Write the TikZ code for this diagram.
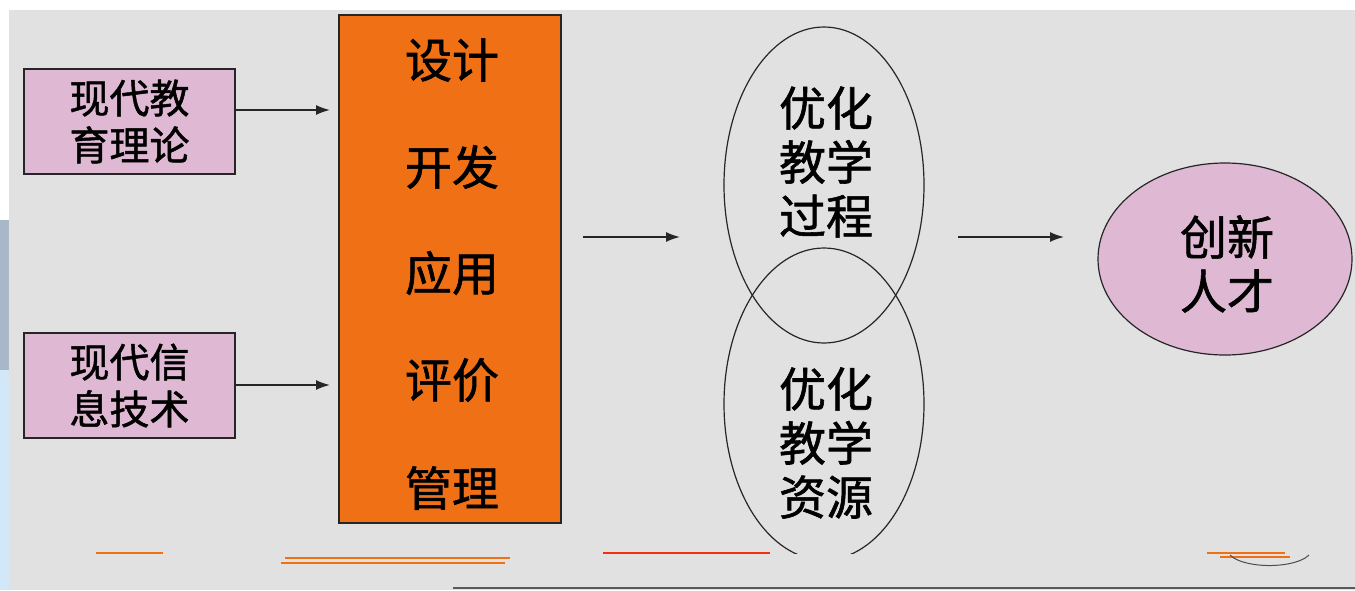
\documentclass[tikz,border=0pt]{standalone}
\usepackage{fontspec}
\newfontfamily\cjk{Noto Sans CJK SC}[FakeBold=1.2]
\usetikzlibrary{arrows.meta,shapes.geometric}
\definecolor{bg}{HTML}{E1E1E1}
\definecolor{lilac}{HTML}{DFB8D4}
\definecolor{orng}{HTML}{F07016}
\definecolor{stripblue}{HTML}{D2E8F8}
\definecolor{stripgray}{HTML}{A8B8C8}
\tikzset{
  inbox/.style={draw=black!85, line width=1.6pt, fill=lilac, minimum width=211pt, minimum height=105pt, inner sep=0pt, align=center, font=\cjk\fontsize{40}{47}\selectfont},
  biglab/.style={inner sep=0pt, align=center, font=\cjk\fontsize{47}{54}\selectfont},
  oval/.style={draw=black!85, line width=1.2pt, ellipse, inner sep=0pt},
  conn/.style={-{Latex[length=14pt,width=10pt]}, line width=1.6pt, black!85},
}
\begin{document}
\begin{tikzpicture}[x=1pt,y=-1pt]
\useasboundingbox (0,0) rectangle (1355,590);
\fill[white] (0,0) rectangle (1355,590);
\fill[bg] (9,10) rectangle (1355,590);
\fill[stripgray] (0,220) rectangle (9,370);
\fill[stripblue] (0,370) rectangle (9,590);
\draw[black!65, line width=2pt] (453,588) -- (1355,588);
% bottom residue lines
\draw[orng, line width=1.2pt] (96,553) -- (163,553);
\draw[orng, line width=1.2pt] (285,558) -- (510,558);
\draw[orng, line width=1.2pt] (281,563) -- (505,563);
\draw[red!60!orng, line width=1.2pt] (603,553) -- (770,553);
\draw[orng, line width=1.2pt] (1207,553) -- (1285,553);
\draw[orng, line width=1.2pt] (1220,557) -- (1290,557);
\draw[black!70, line width=1pt] (1230,555) arc[start angle=160, end angle=20, x radius=42, y radius=16];
% left inputs
\node[inbox] (theory) at (129.5,121.5) {现代教\\育理论};
\node[inbox] (tech) at (129.5,385.5) {现代信\\息技术};
% orange box
\node[draw=black!85, line width=1.6pt, fill=orng, minimum width=222pt, minimum height=508pt, inner sep=0pt] (proc) at (450,269) {};
\node[biglab] (l1) at (452,60) {设计};
\node[biglab] (l2) at (452,167) {开发};
\node[biglab] (l3) at (452,273) {应用};
\node[biglab] (l4) at (452,380) {评价};
\node[biglab] (l5) at (452,488) {管理};
\coordinate (a1) at (330,110);
\coordinate (a2) at (330,385);
\draw[conn] (theory.east |- a1) -- (a1);
\draw[conn] (tech.east |- a2) -- (a2);
% ellipses
\begin{scope}
\clip (700,0) rectangle (950,553);
\node[oval, minimum width=200pt, minimum height=316pt] (e1) at (824,185) {};
\node[oval, minimum width=200pt, minimum height=312pt] (e2) at (824,404) {};
\end{scope}
\node[biglab] (t1) at (826,162) {优化\\教学\\过程};
\node[biglab] (t2) at (826,443) {优化\\教学\\资源};
\node[oval, fill=lilac, minimum width=254pt, minimum height=192pt] (talent) at (1225,259) {};
\node[biglab] (t3) at (1227,264) {创新\\人才};
\coordinate (b0) at (583,237);
\coordinate (b1) at (680,237);
\coordinate (c0) at (958,237);
\coordinate (c1) at (1064,237);
\draw[conn] (b0) -- (b1);
\draw[conn] (c0) -- (c1);
\end{tikzpicture}
\end{document}
